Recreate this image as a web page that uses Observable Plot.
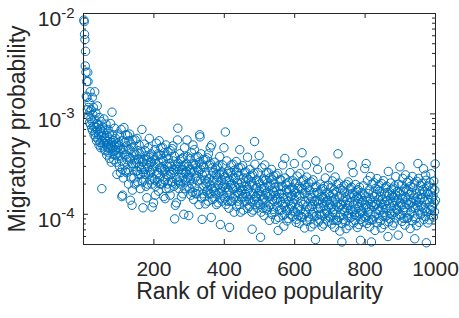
<!DOCTYPE html>
<html>
<head>
<meta charset="utf-8">
<script src="https://cdn.jsdelivr.net/npm/d3@7"></script>
<script src="https://cdn.jsdelivr.net/npm/@observablehq/plot@0.6"></script>
<style>
  html, body { margin: 0; padding: 0; background: #fff; }
  #chart svg { display: block; }
</style>
</head>
<body>
<div id="chart"></div>
<script>
// Migratory probability per video rank, in units of 1e-4 (rank = position + 1)
const probE4 = [
  86, 83, 62, 55, 30, 42, 26, 15, 21, 14.6,
  11, 26, 21, 11.6, 9.5, 13, 8.2, 10.5, 16.6, 7.8,
  9.0, 11, 7.2, 8.5, 14.6, 6.8, 9.8, 11.6, 7.5, 6.2,
  8.8, 16.6, 6.5, 5.9, 10.2, 7.4, 5.4, 8.0, 12, 6.9,
  5.6, 7.8, 6.2, 4.9, 9.2, 6.6, 5.2, 7.1, 4.6, 8.4,
  6.0, 1.8, 5.4, 7.4, 4.8, 6.6, 5.1, 8.9, 4.4, 5.8,
  6.9, 4.3, 5.5, 7.9, 4.9, 3.9, 6.1, 5.3, 4.6, 7.0,
  5.0, 4.1, 6.4, 3.6, 5.6, 4.5, 8.0, 4.8, 3.3, 5.2,
  10.4, 4.6, 6.2, 4.0, 5.4, 3.5, 4.9, 7.2, 4.3, 3.9,
  5.7, 4.4, 3.3, 5.0, 2.5, 4.6, 6.3, 3.8, 4.1, 5.2,
  4.8, 3.0, 6.0, 3.8, 2.6, 4.4, 7.0, 3.4, 1.5, 2.8,
  1.55, 5.4, 2.3, 4.4, 7.3, 3.1, 3.9, 5.2, 2.7, 6.2,
  3.9, 2.6, 4.8, 3.5, 6.1, 2.8, 4.4, 2.0, 5.4, 3.7,
  6.3, 4.4, 1.38, 3.6, 2.3, 5.0, 3.2, 1.23, 1.74, 5.5,
  4.7, 3.0, 2.3, 4.1, 3.5, 2.0, 5.5, 3.2, 3.9, 2.7,
  3.3, 5.7, 2.7, 2.1, 4.3, 3.5, 2.5, 4.9, 3.0, 4.0,
  1.8, 2.5, 3.5, 4.2, 2.8, 7.0, 2.1, 3.3, 1.16, 2.6,
  2.2, 3.5, 5.0, 2.8, 4.3, 2.5, 3.8, 1.9, 3.2, 1.46,
  3.5, 2.0, 2.9, 4.6, 2.5, 3.7, 5.7, 2.2, 3.3, 2.7,
  2.6, 4.0, 3.3, 2.0, 1.18, 2.8, 2.3, 3.8, 1.3, 3.0,
  3.5, 2.2, 4.4, 1.55, 1.9, 3.2, 5.1, 2.5, 3.8, 2.1,
  2.6, 4.0, 1.7, 3.3, 5.4, 2.3, 2.9, 3.9, 2.0, 4.6,
  2.9, 2.0, 3.6, 2.7, 4.6, 2.1, 3.4, 1.5, 4.1, 2.8,
  2.2, 1.43, 2.7, 4.9, 1.8, 3.8, 2.5, 3.0, 2.0, 4.2,
  3.6, 2.4, 1.8, 3.2, 2.7, 1.55, 4.3, 2.5, 3.0, 2.1,
  2.6, 4.5, 2.1, 4.8, 3.4, 2.75, 1.9, 3.8, 0.9, 3.1,
  1.23, 2.0, 2.8, 1.3, 2.2, 3.0, 5.5, 7.2, 3.2, 2.1,
  1.8, 2.8, 4.0, 2.3, 3.5, 2.0, 3.0, 1.5, 2.6, 3.6,
  2.8, 1.6, 2.3, 3.7, 1.0, 3.0, 4.6, 1.8, 2.6, 2.2,
  2.1, 3.2, 2.7, 5.5, 3.75, 2.3, 1.9, 3.0, 0.97, 2.4,
  2.8, 1.8, 3.6, 2.25, 1.55, 2.6, 4.1, 2.0, 3.1, 1.65,
  4.9, 3.2, 1.4, 2.7, 4.4, 1.85, 2.3, 3.1, 1.6, 3.7,
  2.4, 1.6, 2.95, 2.15, 3.75, 1.7, 2.7, 1.25, 3.3, 6.2,
  5.9, 2.8, 2.2, 4.0, 1.45, 3.1, 0.89, 2.45, 1.6, 3.5,
  3.0, 1.9, 1.5, 2.6, 2.2, 1.27, 3.5, 2.0, 2.45, 1.7,
  2.1, 3.65, 1.75, 1.35, 4.0, 2.25, 1.6, 3.1, 1.95, 4.6,
  3.2, 1.6, 0.93, 4.9, 1.8, 2.9, 1.4, 2.1, 2.6, 1.7,
  1.45, 2.3, 3.3, 1.85, 2.85, 1.6, 2.5, 1.25, 2.15, 2.95,
  2.35, 1.3, 1.95, 3.05, 1.65, 2.5, 3.75, 1.45, 0.79, 1.8,
  1.7, 2.65, 2.2, 1.35, 3.1, 1.9, 1.55, 2.5, 4.6, 2.0,
  2.35, 1.45, 6.6, 1.85, 1.25, 2.15, 3.4, 1.65, 2.55, 1.35,
  1.75, 2.7, 1.15, 2.2, 0.74, 1.55, 1.95, 2.6, 1.35, 3.1,
  2.0, 1.35, 2.45, 1.8, 3.15, 1.45, 2.3, 1.05, 2.75, 1.9,
  1.5, 2.3, 1.85, 3.35, 1.2, 2.6, 1.65, 2.05, 1.35, 2.9,
  2.45, 1.6, 1.25, 4.4, 1.85, 1.05, 2.9, 1.7, 2.05, 1.45,
  1.75, 3.05, 1.5, 1.1, 2.3, 1.9, 1.35, 2.6, 1.6, 2.1,
  2.65, 1.35, 1.9, 2.3, 1.5, 3.7, 1.15, 1.75, 2.2, 1.4,
  1.2, 1.95, 2.8, 1.55, 2.4, 1.35, 2.1, 1.05, 0.71, 2.45,
  1.95, 1.1, 1.6, 2.55, 1.4, 5.3, 3.15, 1.25, 1.8, 1.5,
  1.45, 2.2, 1.85, 1.15, 2.6, 1.6, 1.3, 2.1, 3.85, 1.7,
  2.0, 1.25, 0.59, 1.55, 1.05, 1.8, 2.9, 1.4, 2.15, 1.15,
  1.45, 2.25, 0.97, 1.85, 3.1, 1.3, 1.6, 2.2, 1.15, 2.6,
  1.65, 1.1, 2.05, 1.5, 2.6, 1.2, 1.9, 0.87, 2.3, 1.6,
  1.25, 1.95, 1.55, 2.8, 1.0, 2.2, 1.4, 1.7, 1.12, 2.4,
  2.05, 1.35, 1.05, 1.85, 1.55, 0.89, 2.45, 1.4, 1.7, 1.2,
  1.45, 2.55, 0.69, 0.93, 1.9, 1.6, 1.1, 2.2, 1.35, 1.75,
  2.2, 1.1, 1.6, 1.9, 1.25, 3.1, 0.97, 1.45, 0.76, 1.2,
  1.0, 3.6, 2.3, 1.3, 2.0, 1.1, 1.75, 0.86, 1.5, 2.05,
  1.65, 0.91, 1.35, 2.1, 1.15, 1.75, 2.6, 1.0, 1.5, 1.25,
  1.2, 1.85, 1.55, 0.95, 2.15, 1.3, 1.08, 1.75, 3.2, 1.4,
  1.65, 1.05, 2.05, 0.83, 0.89, 1.5, 2.4, 1.15, 1.8, 0.96,
  1.2, 1.9, 0.81, 1.55, 2.55, 1.1, 1.35, 1.8, 0.95, 2.15,
  4.1, 0.93, 1.75, 1.25, 2.2, 1.0, 1.6, 0.73, 1.95, 1.33,
  1.05, 1.65, 3.1, 2.35, 0.85, 1.85, 1.2, 1.45, 0.94, 2.05,
  1.75, 1.15, 0.88, 1.55, 1.33, 0.75, 2.1, 1.2, 1.45, 1.0,
  1.25, 2.2, 1.05, 0.8, 1.65, 1.35, 0.95, 1.85, 0.56, 3.4,
  1.9, 0.97, 1.35, 1.65, 2.8, 1.15, 0.84, 1.27, 1.6, 1.0,
  0.88, 1.4, 2.0, 1.15, 1.75, 0.98, 1.5, 0.76, 1.3, 1.8,
  1.45, 0.8, 1.2, 1.9, 1.02, 1.5, 2.3, 0.9, 1.33, 1.1,
  1.05, 1.65, 1.38, 0.85, 1.95, 1.18, 0.96, 1.58, 2.9, 1.25,
  1.5, 0.93, 1.85, 1.18, 0.8, 1.36, 2.15, 1.05, 1.6, 0.87,
  1.12, 1.75, 0.74, 1.42, 2.35, 0.99, 1.24, 1.68, 0.87, 1.98,
  1.3, 0.87, 4.0, 1.18, 2.05, 0.93, 1.5, 0.68, 1.8, 1.24,
  0.99, 1.55, 1.24, 0.53, 0.81, 1.74, 1.12, 1.36, 0.89, 1.92,
  1.67, 1.09, 0.84, 1.49, 1.26, 0.72, 1.98, 1.14, 1.39, 0.97,
  1.22, 2.1, 1.02, 0.77, 1.59, 1.3, 0.92, 1.8, 1.12, 1.46,
  1.86, 0.94, 3.1, 1.61, 1.07, 2.6, 0.82, 1.24, 1.55, 0.99,
  0.87, 1.39, 1.98, 1.12, 1.71, 0.97, 1.49, 0.74, 1.28, 1.76,
  1.43, 0.79, 1.18, 1.86, 1.02, 1.51, 0.55, 0.89, 1.31, 1.09,
  1.05, 1.64, 1.36, 0.84, 1.92, 1.17, 0.95, 1.56, 2.85, 1.24,
  1.49, 0.93, 3.2, 1.18, 0.81, 1.36, 2.17, 1.05, 1.61, 0.87,
  1.13, 1.75, 0.75, 1.44, 2.38, 1.0, 1.25, 0.53, 0.88, 2.0,
  1.31, 0.88, 1.63, 1.19, 2.06, 0.94, 1.5, 0.69, 1.81, 1.25,
  1.01, 1.58, 1.26, 2.27, 0.82, 1.76, 1.13, 1.39, 0.91, 1.95,
  1.7, 1.11, 0.86, 1.51, 1.29, 0.73, 2.02, 1.16, 1.41, 0.98,
  1.24, 2.16, 1.04, 0.79, 1.63, 1.33, 0.94, 1.84, 1.14, 1.5,
  1.9, 0.97, 1.37, 1.65, 0.6, 2.67, 0.84, 1.27, 1.59, 1.02,
  0.9, 1.43, 2.05, 1.15, 1.77, 1.0, 1.54, 0.77, 1.32, 1.82,
  1.47, 0.82, 1.22, 1.92, 1.05, 1.56, 2.37, 0.92, 1.36, 1.13,
  1.1, 1.7, 1.42, 0.62, 2.0, 1.21, 0.99, 1.63, 2.97, 1.29,
  1.56, 0.98, 1.95, 1.24, 0.85, 1.43, 2.28, 1.1, 1.69, 0.91,
  1.17, 1.82, 0.78, 1.5, 2.47, 1.04, 1.3, 1.76, 0.91, 2.08,
  1.38, 0.92, 1.7, 1.24, 2.16, 0.98, 1.57, 0.72, 1.9, 1.31,
  1.06, 1.65, 1.32, 2.38, 0.86, 1.85, 1.19, 1.45, 0.95, 2.05,
  0.57, 1.17, 0.9, 1.6, 1.36, 0.77, 2.13, 1.22, 1.49, 3.2,
  1.31, 2.28, 1.1, 0.83, 1.72, 1.41, 0.99, 1.94, 1.21, 1.58,
  2.03, 1.03, 1.46, 1.76, 1.16, 2.84, 0.89, 1.35, 1.69, 1.08,
  0.95, 2.45, 2.18, 0.52, 1.88, 1.06, 1.63, 0.82, 1.4, 1.93,
  1.58, 0.88, 1.3, 2.06, 1.12, 1.67, 2.53, 0.99, 1.45, 1.21,
  1.17, 1.82, 1.52, 0.94, 2.14, 1.3, 1.06, 1.74, 3.17, 1.38
];

const xTicks = [200, 400, 600, 800, 1000];
const yMajor = [1e-4, 1e-3, 1e-2];
const yMinor = [5e-5, 6e-5, 7e-5, 8e-5, 9e-5,
                2e-4, 3e-4, 4e-4, 5e-4, 6e-4, 7e-4, 8e-4, 9e-4,
                2e-3, 3e-3, 4e-3, 5e-3, 6e-3, 7e-3, 8e-3, 9e-3];
const xLabel = "Rank of video popularity";
const yLabel = "Migratory probability";

const data = probE4.map((v, i) => ({rank: i + 1, prob: v * 1e-4}));

const W = 459, H = 318, mL = 83, mR = 24, mT = 13, mB = 74;
const pw = W - mL - mR, ph = H - mT - mB;
const ink = "#262626";

const chart = Plot.plot({
  width: W, height: H,
  marginLeft: mL, marginRight: mR, marginTop: mT, marginBottom: mB,
  style: {fontFamily: "'Liberation Sans', Arial, Helvetica, sans-serif", background: "#fff", color: ink},
  x: {domain: [0, 1000]},
  y: {type: "log", domain: [5e-5, 1e-2]},
  marks: [
    Plot.dot(data, {x: "rank", y: "prob", r: 4.2, stroke: "#0072BD", strokeWidth: 1, fill: "none"}),
    Plot.frame({stroke: ink, strokeWidth: 1}),
    Plot.tickX(xTicks, {x: d => d, insetTop: ph - 5, stroke: ink}),
    Plot.tickX(xTicks, {x: d => d, insetBottom: ph - 5, stroke: ink}),
    Plot.tickY(yMajor, {y: d => d, insetRight: pw - 5, stroke: ink}),
    Plot.tickY(yMajor, {y: d => d, insetLeft: pw - 5, stroke: ink}),
    Plot.tickY(yMinor, {y: d => d, insetRight: pw - 3, stroke: ink}),
    Plot.tickY(yMinor, {y: d => d, insetLeft: pw - 3, stroke: ink}),
    Plot.axisX(xTicks, {tickSize: 0, tickPadding: 17, fontSize: 21, label: null,
      tickFormat: d => String(d)}),
    Plot.axisY(yMajor, {tickSize: 0, tickPadding: 9, fontSize: 21, label: null,
      tickFormat: d => "10^" + Math.round(Math.log10(d))}),
    Plot.text([xLabel], {frameAnchor: "bottom", textAnchor: "middle", lineAnchor: "middle",
      text: d => d, dy: 47, fontSize: 23, fill: ink}),
    Plot.text([yLabel], {frameAnchor: "left", textAnchor: "middle", lineAnchor: "middle",
      text: d => d, rotate: -90, dx: -66, fontSize: 23, fill: ink})
  ]
});

// Render "10^k" tick labels with a raised exponent
const NS = "http://www.w3.org/2000/svg";
chart.querySelectorAll("text").forEach(t => {
  const m = /^10\^(-?\d+)$/.exec(t.textContent);
  if (!m) return;
  t.textContent = "";
  const base = document.createElementNS(NS, "tspan");
  base.setAttribute("dy", "6");
  base.textContent = "10";
  const sup = document.createElementNS(NS, "tspan");
  sup.setAttribute("dy", "-8.7");
  sup.setAttribute("font-size", "15");
  sup.textContent = m[1];
  t.append(base, sup);
});

document.getElementById("chart").append(chart);
</script>
</body>
</html>
